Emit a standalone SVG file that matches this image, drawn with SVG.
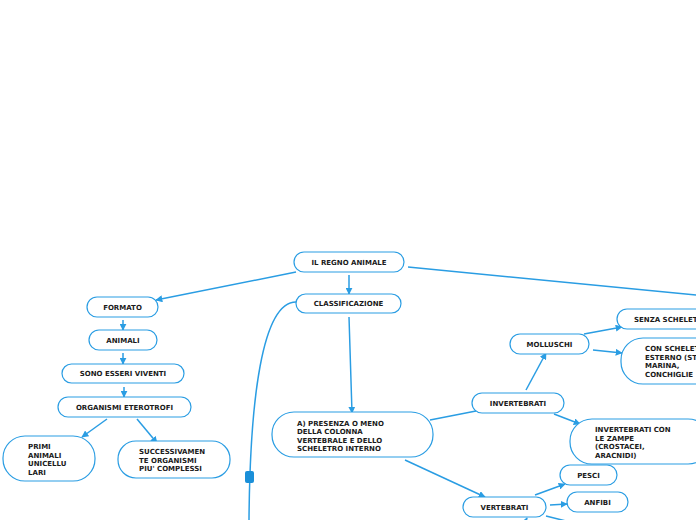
<svg xmlns="http://www.w3.org/2000/svg" width="696" height="520" viewBox="0 0 696 520">
<style>
.n{fill:#fff;stroke:#2a9de3;stroke-width:1.2}
.t{font-family:"DejaVu Sans",Verdana,sans-serif;font-weight:bold;font-size:7px;fill:#1a1a1a}
.c{text-anchor:middle}
.e{fill:none;stroke:#2a9de3;stroke-width:1.5}
.a{marker-end:url(#ah)}
</style>
<defs>
<marker id="ah" viewBox="0 0 10 10" refX="9" refY="5" markerWidth="7" markerHeight="7" markerUnits="userSpaceOnUse" orient="auto">
<path d="M0,0 L10,5 L0,10 z" fill="#2a9de3"/>
</marker>
</defs>
<rect width="696" height="520" fill="#fff"/>
<g id="connectors">
<line class="e a" x1="296" y1="272" x2="156" y2="300"/>
<line class="e a" x1="349" y1="275" x2="349" y2="294"/>
<line class="e" x1="408" y1="267" x2="696" y2="295"/>
<line class="e a" x1="123" y1="320" x2="123" y2="330"/>
<line class="e a" x1="123" y1="353" x2="123" y2="364"/>
<line class="e a" x1="124" y1="387" x2="124" y2="397"/>
<line class="e a" x1="107" y1="419" x2="82" y2="437"/>
<line class="e a" x1="137" y1="419" x2="157" y2="443"/>
<line class="e a" x1="349" y1="317" x2="352" y2="413"/>
<path class="e" d="M296,302 C262,302 250,400 249,520"/>
<rect x="245" y="471" width="9" height="12" rx="2" fill="#1a8fd8"/>
<line class="e" x1="430" y1="420" x2="476" y2="411"/>
<line class="e a" x1="405" y1="460" x2="485" y2="497"/>
<line class="e a" x1="526" y1="390" x2="546" y2="353"/>
<line class="e a" x1="554" y1="414" x2="580" y2="424"/>
<line class="e a" x1="584" y1="334" x2="622" y2="327"/>
<line class="e a" x1="593" y1="350" x2="622" y2="353"/>
<line class="e a" x1="535" y1="495" x2="565" y2="484"/>
<line class="e a" x1="550" y1="505" x2="567" y2="504"/>
<line class="e" x1="546" y1="516" x2="566" y2="521"/>
<line class="e a" x1="523" y1="526" x2="527" y2="518"/>
</g>
<g id="n-regno"><rect class="n" x="294" y="252" width="110" height="20" rx="10"/><text class="t c" x="349" y="264.5">IL REGNO ANIMALE</text></g>
<g id="n-classificazione"><rect class="n" x="296" y="294" width="105" height="19" rx="9.5"/><text class="t c" x="348.5" y="306">CLASSIFICAZIONE</text></g>
<g id="n-formato"><rect class="n" x="87" y="297" width="71" height="20" rx="10"/><text class="t c" x="122.5" y="309.5">FORMATO</text></g>
<g id="n-animali"><rect class="n" x="89" y="330" width="68" height="20" rx="10"/><text class="t c" x="123" y="342.5">ANIMALI</text></g>
<g id="n-esseri"><rect class="n" x="62" y="364" width="122" height="19" rx="9.5"/><text class="t c" x="123" y="376">SONO ESSERI VIVENTI</text></g>
<g id="n-eterotrofi"><rect class="n" x="58" y="397" width="133" height="20" rx="10"/><text class="t c" x="124.5" y="409.5">ORGANISMI ETEROTROFI</text></g>
<g id="n-primi"><rect class="n" x="3" y="436" width="92" height="45" rx="22"/><text class="t" x="28" y="449">PRIMI</text><text class="t" x="28" y="457.5">ANIMALI</text><text class="t" x="28" y="466">UNICELLU</text><text class="t" x="28" y="474.5">LARI</text></g>
<g id="n-successivamente"><rect class="n" x="118" y="441" width="112" height="37" rx="18"/><text class="t" x="139" y="454">SUCCESSIVAMEN</text><text class="t" x="139" y="462.5">TE ORGANISMI</text><text class="t" x="139" y="471">PIU' COMPLESSI</text></g>
<g id="n-presenza"><rect class="n" x="272" y="412" width="161" height="45" rx="22"/><text class="t" x="297" y="425.5">A) PRESENZA O MENO</text><text class="t" x="297" y="434">DELLA COLONNA</text><text class="t" x="297" y="442.5">VERTEBRALE E DELLO</text><text class="t" x="297" y="451">SCHELETRO INTERNO</text></g>
<g id="n-invertebrati"><rect class="n" x="472" y="393" width="92" height="20" rx="10"/><text class="t c" x="518" y="405.5">INVERTEBRATI</text></g>
<g id="n-molluschi"><rect class="n" x="510" y="334" width="79" height="20" rx="10"/><text class="t c" x="549.5" y="346.5">MOLLUSCHI</text></g>
<g id="n-senza"><rect class="n" x="617" y="309" width="100" height="20" rx="10"/><text class="t" x="634" y="321.5">SENZA SCHELET</text></g>
<g id="n-con"><rect class="n" x="621" y="338" width="100" height="46" rx="22"/><text class="t" x="645" y="351">CON SCHELET</text><text class="t" x="645" y="359.5">ESTERNO (ST</text><text class="t" x="645" y="368">MARINA,</text><text class="t" x="645" y="376.5">CONCHIGLIE</text></g>
<g id="n-zampe"><rect class="n" x="570" y="419" width="140" height="45" rx="22"/><text class="t" x="595" y="432">INVERTEBRATI CON</text><text class="t" x="595" y="440.5">LE ZAMPE</text><text class="t" x="595" y="449">(CROSTACEI,</text><text class="t" x="595" y="457.5">ARACNIDI)</text></g>
<g id="n-pesci"><rect class="n" x="560" y="465" width="57" height="20" rx="10"/><text class="t c" x="588.5" y="477.5">PESCI</text></g>
<g id="n-anfibi"><rect class="n" x="567" y="492" width="61" height="20" rx="10"/><text class="t c" x="597.5" y="504.5">ANFIBI</text></g>
<g id="n-vertebrati"><rect class="n" x="463" y="497" width="83" height="20" rx="10"/><text class="t c" x="504.5" y="509.5">VERTEBRATI</text></g>
</svg>
